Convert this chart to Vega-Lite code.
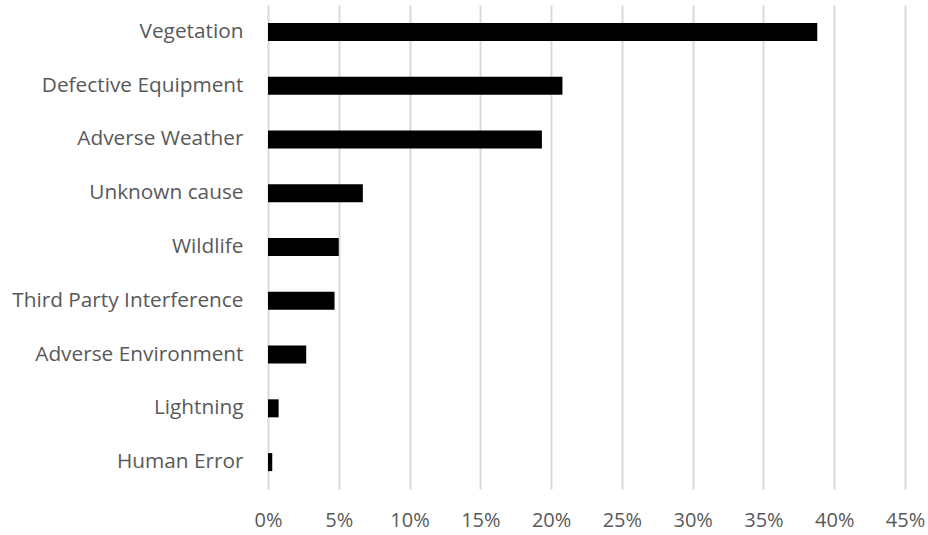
{
  "$schema": "https://vega.github.io/schema/vega-lite/v6.json",
  "autosize": "none",
  "width": 637,
  "height": 484,
  "padding": {"left": 268, "top": 5, "right": 23, "bottom": 46},
  "background": "white",
  "data": {"values": [
    {"cause": "Vegetation", "share": 0.388},
    {"cause": "Defective Equipment", "share": 0.208},
    {"cause": "Adverse Weather", "share": 0.1935},
    {"cause": "Unknown cause", "share": 0.067},
    {"cause": "Wildlife", "share": 0.050},
    {"cause": "Third Party Interference", "share": 0.047},
    {"cause": "Adverse Environment", "share": 0.027},
    {"cause": "Lightning", "share": 0.0075},
    {"cause": "Human Error", "share": 0.003}
  ]},
  "mark": {"type": "bar", "color": "black"},
  "encoding": {
    "y": {
      "field": "cause", "type": "nominal", "sort": null,
      "scale": {"paddingInner": 0.665, "paddingOuter": 0.3325},
      "axis": {"title": null, "domain": false, "ticks": false, "labelPadding": 25, "labelLimit": 400,
               "labelFont": "Open Sans", "labelFontSize": 20.8, "labelColor": "#595959", "grid": false}
    },
    "x": {
      "field": "share", "type": "quantitative",
      "scale": {"domain": [0, 0.45], "nice": false},
      "axis": {"title": null, "format": ".0%", "values": [0,0.05,0.1,0.15,0.2,0.25,0.3,0.35,0.4,0.45],
               "domain": false, "ticks": false, "labelPadding": 21, "labelFlush": false,
               "labelFont": "Open Sans", "labelFontSize": 20, "labelColor": "#595959",
               "gridColor": "#d9d9d9", "gridWidth": 2}
    }
  },
  "config": {"view": {"stroke": null}}
}
